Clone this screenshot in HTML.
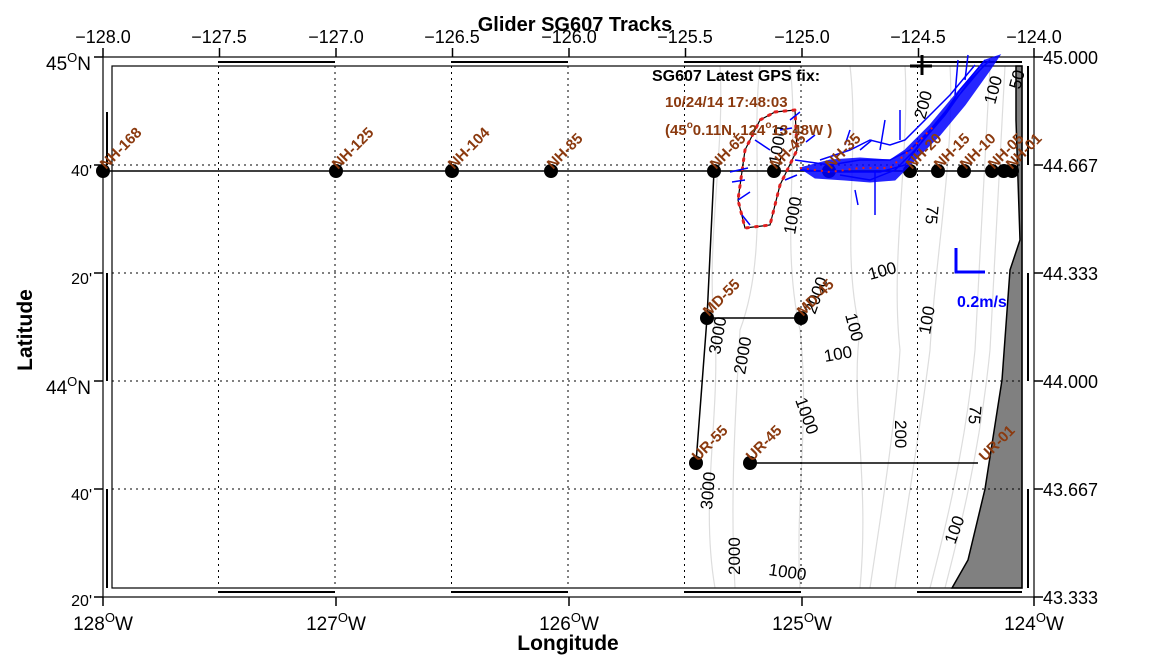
<!DOCTYPE html>
<html><head><style>body{margin:0;background:#fff}svg{display:block}text{font-family:"Liberation Sans",sans-serif}</style></head><body>
<svg width="1154" height="662" viewBox="0 0 1154 662" xmlns="http://www.w3.org/2000/svg">
<rect width="1154" height="662" fill="#fff"/>
<text x="575" y="31" font-size="20" font-weight="bold" text-anchor="middle">Glider SG607 Tracks</text>
<g fill="none" stroke="#ddd" stroke-width="1.2">
<path d="M720,66 C725,150 705,250 715,330 C720,420 700,500 715,588"/>
<path d="M760,66 C750,150 770,250 740,330 C735,420 730,500 735,588"/>
<path d="M790,66 C800,150 780,240 800,330 C810,420 795,500 800,588"/>
<path d="M850,66 C860,150 840,250 860,330 C850,400 870,480 860,588"/>
<path d="M905,66 C910,150 890,260 900,350 C895,430 880,520 870,588"/>
<path d="M950,66 C955,150 935,260 930,350 C920,430 905,520 895,588"/>
<path d="M990,66 C985,150 980,260 975,350 C965,450 945,530 930,588"/>
<path d="M1005,66 C1000,150 995,260 990,350 C980,450 960,530 945,588"/>
</g>
<path d="M1016,66 L1022,66 L1022,588 L952,588 L968,560 L985,489 L1002,380 L1010,270 L1020,240 L1016,120 Z" fill="#808080" stroke="#000" stroke-width="1.5"/>
<g stroke="#000" stroke-dasharray="2,4" stroke-width="1">
<line x1="218.5" y1="66" x2="218.5" y2="588"/><line x1="335" y1="66" x2="335" y2="588"/><line x1="451.5" y1="66" x2="451.5" y2="588"/><line x1="568" y1="66" x2="568" y2="588"/><line x1="684.5" y1="66" x2="684.5" y2="588"/><line x1="801" y1="66" x2="801" y2="588"/><line x1="917.5" y1="66" x2="917.5" y2="588"/>
<line x1="112" y1="165" x2="1022" y2="165"/><line x1="112" y1="273" x2="1022" y2="273"/><line x1="112" y1="381" x2="1022" y2="381"/><line x1="112" y1="489" x2="1022" y2="489"/>
</g>
<g fill="none" stroke="#000" stroke-width="1.2">
<rect x="103" y="57" width="931" height="540"/>
<rect x="112" y="66" width="910" height="522"/>
<line x1="218" y1="62" x2="335" y2="62" stroke-width="2"/><line x1="451" y1="62" x2="568" y2="62" stroke-width="2"/><line x1="684" y1="62" x2="801" y2="62" stroke-width="2"/><line x1="917" y1="62" x2="1022" y2="62" stroke-width="2"/>
<line x1="218" y1="592" x2="335" y2="592" stroke-width="2"/><line x1="451" y1="592" x2="568" y2="592" stroke-width="2"/><line x1="684" y1="592" x2="801" y2="592" stroke-width="2"/><line x1="917" y1="592" x2="1022" y2="592" stroke-width="2"/>
<line x1="107" y1="112" x2="107" y2="165" stroke-width="2"/><line x1="107" y1="273" x2="107" y2="381" stroke-width="2"/><line x1="107" y1="489" x2="107" y2="588" stroke-width="2"/>
<line x1="1028" y1="66" x2="1028" y2="165" stroke-width="2"/><line x1="1028" y1="273" x2="1028" y2="381" stroke-width="2"/><line x1="1028" y1="489" x2="1028" y2="588" stroke-width="2"/>
</g>
<g stroke="#000" stroke-width="1.5">
<line x1="103" y1="48" x2="103" y2="57"/><line x1="219.5" y1="48" x2="219.5" y2="57"/><line x1="336" y1="48" x2="336" y2="57"/><line x1="452.5" y1="48" x2="452.5" y2="57"/><line x1="569" y1="48" x2="569" y2="57"/><line x1="685.5" y1="48" x2="685.5" y2="57"/><line x1="802" y1="48" x2="802" y2="57"/><line x1="918.5" y1="48" x2="918.5" y2="57"/><line x1="1034" y1="48" x2="1034" y2="57"/>
<line x1="103" y1="597" x2="103" y2="606"/><line x1="336" y1="597" x2="336" y2="606"/><line x1="569" y1="597" x2="569" y2="606"/><line x1="802" y1="597" x2="802" y2="606"/><line x1="1034" y1="597" x2="1034" y2="606"/>
<line x1="94" y1="57" x2="103" y2="57"/><line x1="94" y1="165" x2="103" y2="165"/><line x1="94" y1="273" x2="103" y2="273"/><line x1="94" y1="381" x2="103" y2="381"/><line x1="94" y1="489" x2="103" y2="489"/><line x1="94" y1="597" x2="103" y2="597"/>
<line x1="1034" y1="57" x2="1043" y2="57"/><line x1="1034" y1="165" x2="1043" y2="165"/><line x1="1034" y1="273" x2="1043" y2="273"/><line x1="1034" y1="381" x2="1043" y2="381"/><line x1="1034" y1="489" x2="1043" y2="489"/><line x1="1034" y1="597" x2="1043" y2="597"/>
</g>
<g font-size="18" text-anchor="middle">
<text x="103" y="43">−128.0</text><text x="219" y="43">−127.5</text><text x="336" y="43">−127.0</text><text x="452" y="43">−126.5</text><text x="569" y="43">−126.0</text><text x="685" y="43">−125.5</text><text x="802" y="43">−125.0</text><text x="918" y="43">−124.5</text><text x="1034" y="43">−124.0</text>
</g>
<g font-size="19" text-anchor="middle">
<text x="103" y="630">128<tspan font-size="13" dy="-8">O</tspan><tspan dy="8">W</tspan></text>
<text x="336" y="630">127<tspan font-size="13" dy="-8">O</tspan><tspan dy="8">W</tspan></text>
<text x="569" y="630">126<tspan font-size="13" dy="-8">O</tspan><tspan dy="8">W</tspan></text>
<text x="802" y="630">125<tspan font-size="13" dy="-8">O</tspan><tspan dy="8">W</tspan></text>
<text x="1034" y="630">124<tspan font-size="13" dy="-8">O</tspan><tspan dy="8">W</tspan></text>
</g>
<g font-size="19" text-anchor="end">
<text x="91" y="70">45<tspan font-size="13" dy="-8">O</tspan><tspan dy="8">N</tspan></text>
<text x="92" y="176" font-size="16">40'</text><text x="92" y="284" font-size="16">20'</text>
<text x="91" y="394">44<tspan font-size="13" dy="-8">O</tspan><tspan dy="8">N</tspan></text>
<text x="92" y="500" font-size="16">40'</text><text x="92" y="606" font-size="16">20'</text>
</g>
<g font-size="18"><text x="1043" y="64">45.000</text><text x="1043" y="172">44.667</text><text x="1043" y="280">44.333</text><text x="1043" y="388">44.000</text><text x="1043" y="496">43.667</text><text x="1043" y="604">43.333</text></g>
<text x="568" y="650" font-size="21" font-weight="bold" text-anchor="middle">Longitude</text>
<text transform="translate(32,330) rotate(-90)" font-size="21" font-weight="bold" text-anchor="middle">Latitude</text>
<g font-size="17" fill="#000">
<text transform="translate(925,120) rotate(-75)">200</text>
<text transform="translate(995,105) rotate(-75)">100</text>
<text transform="translate(1020,90) rotate(-75)">50</text>
<text transform="translate(927,205) rotate(95)">75</text>
<text transform="translate(780,165) rotate(-80)">1000</text>
<text transform="translate(795,235) rotate(-80)">1000</text>
<text transform="translate(870,280) rotate(-15)">100</text>
<text transform="translate(815,315) rotate(-70)">2000</text>
<text transform="translate(845,315) rotate(75)">100</text>
<text transform="translate(825,362) rotate(-10)">100</text>
<text transform="translate(930,335) rotate(-80)">100</text>
<text transform="translate(720,355) rotate(-80)">3000</text>
<text transform="translate(745,375) rotate(-80)">2000</text>
<text transform="translate(795,400) rotate(70)">1000</text>
<text transform="translate(895,420) rotate(90)">200</text>
<text transform="translate(970,405) rotate(95)">75</text>
<text transform="translate(712,510) rotate(-85)">3000</text>
<text transform="translate(740,575) rotate(-90)">2000</text>
<text transform="translate(768,575) rotate(8)">1000</text>
<text transform="translate(955,545) rotate(-70)">100</text>
</g>
<g stroke="#000" stroke-width="1.5" fill="none">
<line x1="103" y1="171" x2="1018" y2="171"/>
<polyline points="714,171 707,318 696,463"/>
<line x1="707" y1="318" x2="801" y2="318"/>
<line x1="750" y1="463" x2="978" y2="463"/>
</g>
<g fill="#000">
<circle cx="103" cy="171" r="7"/><circle cx="336" cy="171" r="7"/><circle cx="452" cy="171" r="7"/><circle cx="551" cy="171" r="7"/><circle cx="714" cy="171" r="7"/><circle cx="774" cy="171" r="7"/><circle cx="829" cy="171" r="7"/><circle cx="910" cy="171" r="7"/><circle cx="938" cy="171" r="7"/><circle cx="964" cy="171" r="7"/><circle cx="992" cy="171" r="7"/><circle cx="1004" cy="171" r="7"/><circle cx="1012" cy="171" r="7"/>
<circle cx="707" cy="318" r="7"/><circle cx="801" cy="318" r="7"/><circle cx="696" cy="463" r="7"/><circle cx="750" cy="463" r="7"/>
</g>
<!-- glider track -->
<g fill="none">
<path d="M775,112 L795,110 L797,150 L780,185 L770,225 L745,228 L738,200 L745,150 L760,120 Z" stroke="#000" stroke-width="1.2"/>
<path d="M775,112 L795,110 L797,150 L780,185 L770,225 L745,228 L738,200 L745,150 L760,120 Z" stroke="#e02020" stroke-width="3" stroke-dasharray="2,7" stroke-linecap="round"/>
<path d="M800,168 L830,160 L860,158 L890,160 L905,150 L930,125 L955,95 L985,60 L1000,55 L990,70 L965,105 L940,135 L915,160 L895,180 L870,182 L845,180 L815,178 Z" fill="#0000ff" stroke="#00f" stroke-width="1" opacity="0.85"/>
<g stroke="#00f" stroke-width="1.5">
<path d="M795,160 L830,165 L860,160 L890,160 L910,150 L940,120 L960,90 L985,60 M800,170 L840,172 L880,172 L905,165 L930,130 L955,100 L980,70 M820,160 L850,150 L870,140 L890,145 L905,140 L925,120 L950,95 L975,65 M840,175 L870,180 L895,170 L915,150 L945,115 L970,80 L990,60"/>
<path d="M875,170 L875,215 M880,150 L885,120 M900,140 L900,110 M955,95 L958,60 M965,80 L968,55 M845,145 L850,130 M860,150 L872,140 M855,190 L858,205"/>
<path d="M730,172 L748,168 M732,182 L745,180 M738,200 L750,192 M742,215 L750,225 M780,130 L792,128 M755,140 L770,150 M806,142 L815,135 M785,180 L797,175 M790,120 L800,112"/>
</g>
<path d="M800,168 L830,172 L860,168 L890,168 L910,150 L935,125" stroke="#e02020" stroke-width="2" stroke-dasharray="2,5"/>
</g>
<g stroke="#000" stroke-width="3"><line x1="922" y1="55" x2="922" y2="75"/><line x1="910" y1="66" x2="932" y2="66"/></g>
<g stroke="#00f" stroke-width="3" fill="none"><polyline points="956,248 956,272 985,272"/></g>
<text x="957" y="307" font-size="16" font-weight="bold" fill="#00f">0.2m/s</text>
<text x="652" y="81" font-size="16" font-weight="bold">SG607 Latest GPS fix:</text>
<text x="665" y="107" font-size="15" font-weight="bold" fill="#8b3a0f">10/24/14 17:48:03</text>
<text x="665" y="135" font-size="15" font-weight="bold" fill="#8b3a0f">(45<tspan font-size="10" dy="-7">o</tspan><tspan dy="7">0.11N, 124</tspan><tspan font-size="10" dy="-7">o</tspan><tspan dy="7">13.48W )</tspan></text>
<g font-size="15" font-weight="bold" fill="#8b3a0f">
<text transform="translate(106,170) rotate(-45)">NH-168</text>
<text transform="translate(338,170) rotate(-45)">NH-125</text>
<text transform="translate(454,170) rotate(-45)">NH-104</text>
<text transform="translate(553,170) rotate(-45)">NH-85</text>
<text transform="translate(716,170) rotate(-45)">NH-65</text>
<text transform="translate(776,170) rotate(-45)">NH-45</text>
<text transform="translate(831,170) rotate(-45)">NH-35</text>
<text transform="translate(912,170) rotate(-45)">NH-20</text>
<text transform="translate(940,170) rotate(-45)">NH-15</text>
<text transform="translate(966,170) rotate(-45)">NH-10</text>
<text transform="translate(994,170) rotate(-45)">NH-05</text>
<text transform="translate(1012,170) rotate(-45)">NH-01</text>
<text transform="translate(709,317) rotate(-45)">MD-55</text>
<text transform="translate(803,317) rotate(-45)">MD-45</text>
<text transform="translate(698,462) rotate(-45)">UR-55</text>
<text transform="translate(752,462) rotate(-45)">UR-45</text>
<text transform="translate(985,462) rotate(-45)">UR-01</text>
</g>
</svg>
</body></html>
